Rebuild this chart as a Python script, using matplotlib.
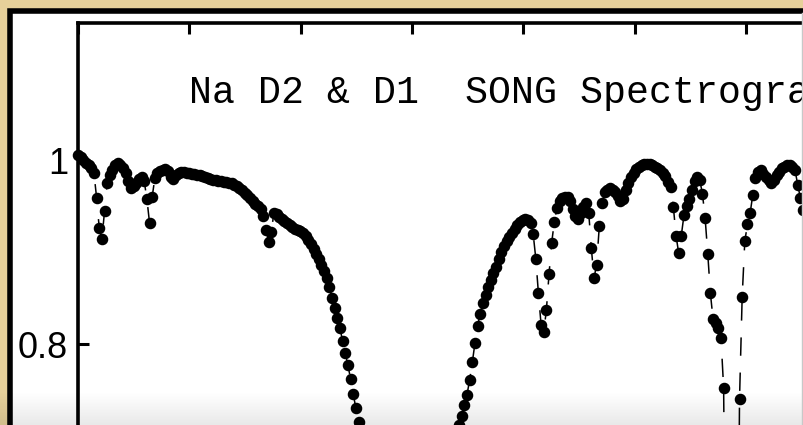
import numpy as np
import matplotlib
matplotlib.use("Agg")
import matplotlib.pyplot as plt
from matplotlib.patches import Rectangle
from matplotlib.lines import Line2D
from matplotlib.ticker import FormatStrFormatter

# ---- data (normalised flux, uniform wavelength sampling) ----
wl_start = 5884.005   # Angstrom
wl_step = 0.0475      # Angstrom per pixel of the spectrum

flux = [
    1.005, 1.003, 1.000, 0.997, 0.995, 0.991, 0.986, 0.959, 0.926, 0.914,
    0.945, 0.975, 0.984, 0.989, 0.995, 0.997, 0.995, 0.991, 0.986, 0.977,
    0.970, 0.972, 0.975, 0.979, 0.982, 0.977, 0.958, 0.932, 0.960, 0.980,
    0.986, 0.988, 0.989, 0.990, 0.988, 0.982, 0.979, 0.984, 0.986, 0.987,
    0.987, 0.986, 0.986, 0.985, 0.985, 0.984, 0.984, 0.983, 0.982, 0.980,
    0.979, 0.978, 0.978, 0.977, 0.977, 0.976, 0.976, 0.975, 0.975, 0.973,
    0.972, 0.970, 0.967, 0.964, 0.962, 0.959, 0.955, 0.952, 0.950, 0.947,
    0.939, 0.924, 0.911, 0.922, 0.942, 0.941, 0.938, 0.936, 0.934, 0.932,
    0.929, 0.927, 0.925, 0.924, 0.923, 0.921, 0.917, 0.913, 0.909, 0.903,
    0.898, 0.892, 0.886, 0.879, 0.872, 0.862, 0.850, 0.839, 0.828, 0.817,
    0.803, 0.790, 0.777, 0.762, 0.746, 0.730, 0.715,
    # Na D2 core
    0.69, 0.66, 0.62, 0.58, 0.53, 0.47, 0.41, 0.34, 0.27, 0.20,
    0.14, 0.10, 0.07, 0.055, 0.05, 0.045, 0.045, 0.045, 0.05, 0.05,
    0.055, 0.065, 0.08, 0.11, 0.15, 0.20, 0.26, 0.32, 0.38, 0.44,
    0.50, 0.55, 0.60, 0.64, 0.67, 0.69, 0.70,
    # red wing of D2
    0.712, 0.722, 0.734, 0.745, 0.761, 0.780, 0.801, 0.820, 0.833, 0.845,
    0.853, 0.862, 0.870, 0.877, 0.884, 0.892, 0.900, 0.907, 0.912, 0.916,
    0.921, 0.925, 0.929, 0.933, 0.935, 0.936, 0.935, 0.932, 0.920, 0.893,
    0.855, 0.821, 0.813, 0.837, 0.876, 0.910, 0.933, 0.948, 0.955, 0.959,
    0.960, 0.960, 0.955, 0.947, 0.939, 0.936, 0.942, 0.949, 0.953, 0.943,
    0.904, 0.872, 0.886, 0.928, 0.953, 0.965, 0.968, 0.970, 0.968, 0.965,
    0.961, 0.955, 0.958, 0.967, 0.975, 0.982, 0.986, 0.990, 0.992, 0.995,
    0.996, 0.996, 0.996, 0.995, 0.993, 0.991, 0.989, 0.986, 0.983, 0.976,
    0.971, 0.949, 0.918, 0.899, 0.918, 0.940, 0.950, 0.958, 0.968, 0.977,
    0.982, 0.978, 0.963, 0.937, 0.898, 0.855, 0.827, 0.823, 0.818, 0.807,
    0.752,
    # Na D1 core
    0.40, 0.10, 0.05, 0.08, 0.35,
    0.740, 0.851, 0.912, 0.930, 0.942, 0.962, 0.980, 0.987, 0.989, 0.985,
    0.982, 0.978, 0.975, 0.978, 0.984, 0.987, 0.991, 0.993, 0.995, 0.995,
    0.993, 0.989, 0.973, 0.959, 0.946,
]

xticks = [5884, 5886, 5888, 5890, 5892, 5894, 5896, 5898]
yticks = [0.8, 1.0]
titulo = "Na D2 & D1  SONG Spectrograph"

wl = wl_start + wl_step * np.arange(len(flux))

# ---- figure ----
W, H = 804, 425
fig = plt.figure(figsize=(W / 100, H / 100), dpi=100)
fig.patch.set_facecolor("#e6d09a")

# white panel with black frame
panel = Rectangle((10.5 / W, -0.2), 1.5, 1 - 10.5 / H + 0.2,
                  transform=fig.transFigure, facecolor="white",
                  edgecolor="black", linewidth=4.0, zorder=0)
fig.add_artist(panel)

# axes (extends past the cropped figure on right and bottom)
xmin, xmax = 5884, 5898
ymin, ymax = 0.0, 1.149
px_per_A = 55.7
px_per_unit = 920
left = 77.8 / W
width = (xmax - xmin) * px_per_A / W
top = 1 - 23 / H
height = (ymax - ymin) * px_per_unit / H
ax = fig.add_axes([left, top - height, width, height])
ax.set_xlim(xmin, xmax)
ax.set_ylim(ymin, ymax)
ax.patch.set_alpha(0)

ax.plot(wl, flux, color="black", lw=1.1, ls=(0, (12, 11)),
        marker="o", ms=7.3, mfc="black", mec="black", clip_on=False)

ax.text(5886.0, 1.062, titulo, family="Liberation Mono", fontsize=27.5,
        va="baseline", ha="left")

ax.set_xticks(xticks)
ax.set_yticks(yticks)
ax.yaxis.set_major_formatter(FormatStrFormatter("%g"))
ax.tick_params(direction="in", top=True, right=True, length=8, width=2.2,
               labeltop=False, labelbottom=False, pad=7)
ax.tick_params(axis="y", labelsize=26)
for lab in ax.get_yticklabels():
    lab.set_family("Liberation Sans")
for s in ax.spines.values():
    s.set_linewidth(2.6)

# right edge line
fig.add_artist(Line2D([802.5 / W] * 2, [0, 1 - 13 / H],
                      transform=fig.transFigure, color="#c8c8c8", lw=1))

# soft shadow at the bottom
gh = 34
ax_g = fig.add_axes([0, 0, 1, gh / H])
ax_g.axis("off")
grad = np.zeros((gh, 1, 4))
grad[:, 0, 3] = np.linspace(0.0, 0.09, gh)
ax_g.imshow(grad, aspect="auto", extent=[0, 1, 0, 1])

fig.savefig("out.png", dpi=100)
